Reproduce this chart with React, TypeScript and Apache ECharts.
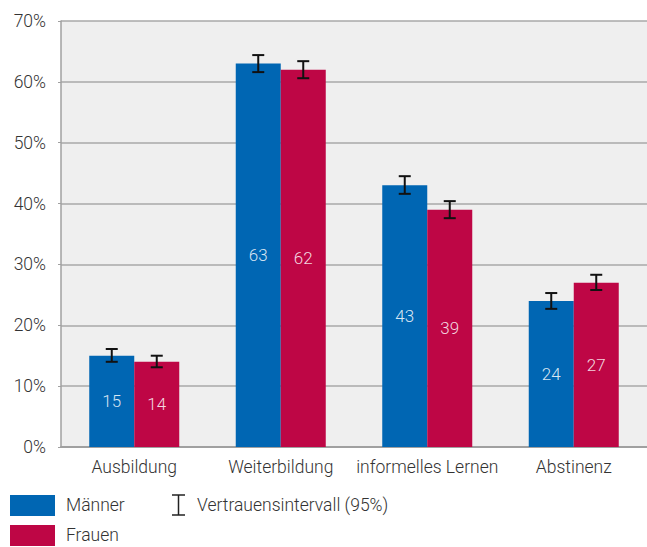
import React, { useEffect, useRef } from "react";
import * as echarts from "echarts";

const categories = ["Ausbildung", "Weiterbildung", "informelles Lernen", "Abstinenz"];
const maenner = [15, 63, 43, 24];
const frauen = [14, 62, 39, 27];
const maennerLow = [14.0, 61.6, 41.6, 22.7];
const maennerHigh = [16.1, 64.4, 44.5, 25.3];
const frauenLow = [13.1, 60.6, 37.6, 25.8];
const frauenHigh = [15.0, 63.4, 40.4, 28.3];
const yTicks = [0, 10, 20, 30, 40, 50, 60, 70];

const BLUE = "#0066b3";
const RED = "#be0645";
const FONT = "Roboto";
const FS = 17.5;

function errorSeries(low: number[], high: number[], offset: number) {
  return {
    type: "custom",
    silent: true,
    z: 10,
    data: categories.map((_, i) => [i, low[i], high[i]]),
    renderItem: (params: any, api: any) => {
      const i = api.value(0);
      const lo = api.coord([i, api.value(1)]);
      const hi = api.coord([i, api.value(2)]);
      const x = lo[0] + offset;
      const cap = 6;
      const style = { stroke: "#111", lineWidth: 2 };
      return {
        type: "group",
        children: [
          { type: "line", shape: { x1: x, y1: hi[1], x2: x, y2: lo[1] }, style },
          { type: "line", shape: { x1: x - cap, y1: hi[1], x2: x + cap, y2: hi[1] }, style },
          { type: "line", shape: { x1: x - cap, y1: lo[1], x2: x + cap, y2: lo[1] }, style },
        ],
      };
    },
  };
}

export default function App() {
  const ref = useRef<HTMLDivElement>(null);
  useEffect(() => {
    document.body.style.margin = "0";
    const chart = echarts.init(ref.current!, null, { renderer: "svg" });
    const labelStyle = {
      show: true,
      position: "inside",
      color: "rgba(255,255,255,0.85)",
      fontSize: 17,
      fontFamily: FONT,
      fontWeight: 300,
    };
    chart.setOption({
      animation: false,
      grid: {
        left: 61,
        right: -2,
        top: 21,
        bottom: 100,
        show: true,
        backgroundColor: "#efefef",
        borderWidth: 0,
      },
      xAxis: {
        type: "category",
        data: categories,
        axisLine: { show: true, lineStyle: { color: "#a0a0a0", width: 2 } },
        axisTick: { show: false },
        axisLabel: { color: "#333", fontSize: FS, fontFamily: FONT, fontWeight: 300, margin: 11, interval: 0 },
      },
      yAxis: {
        type: "value",
        min: 0,
        max: 70,
        interval: 10,
        axisLine: { show: true, lineStyle: { color: "#a0a0a0", width: 1.5 } },
        axisTick: { show: true, length: 3, lineStyle: { color: "#a0a0a0" } },
        splitLine: { show: true, lineStyle: { color: "#a8a8a8", width: 1.5 } },
        axisLabel: {
          color: "#333",
          fontSize: FS,
          fontFamily: FONT,
          fontWeight: 300,
          margin: 15,
          formatter: (v: number) => (yTicks.includes(v) ? v + "%" : ""),
        },
      },
      series: [
        {
          type: "bar",
          name: "Männer",
          data: maenner,
          barWidth: 45,
          barGap: "0%",
          itemStyle: { color: BLUE },
          label: labelStyle,
        },
        {
          type: "bar",
          name: "Frauen",
          data: frauen,
          barWidth: 45,
          barGap: "0%",
          itemStyle: { color: RED },
          label: labelStyle,
        },
        errorSeries(maennerLow, maennerHigh, -22.5),
        errorSeries(frauenLow, frauenHigh, 22.5),
      ],
      graphic: [
        { type: "rect", left: 10, top: 495, shape: { width: 45, height: 21 }, style: { fill: BLUE } },
        { type: "rect", left: 10, top: 525, shape: { width: 45, height: 21 }, style: { fill: RED } },
        { type: "text", left: 66, top: 496, style: { text: "Männer", fill: "#333", fontSize: FS, fontWeight: 300, fontFamily: FONT } },
        { type: "text", left: 66, top: 526, style: { text: "Frauen", fill: "#333", fontSize: FS, fontWeight: 300, fontFamily: FONT } },
        { type: "line", shape: { x1: 178.5, y1: 495, x2: 178.5, y2: 515 }, style: { stroke: "#222", lineWidth: 1.5 } },
        { type: "line", shape: { x1: 172, y1: 495, x2: 185, y2: 495 }, style: { stroke: "#222", lineWidth: 1.5 } },
        { type: "line", shape: { x1: 172, y1: 515, x2: 185, y2: 515 }, style: { stroke: "#222", lineWidth: 1.5 } },
        { type: "text", left: 197, top: 496, style: { text: "Vertrauensintervall (95%)", fill: "#333", fontSize: FS, fontWeight: 300, fontFamily: FONT } },
      ],
    });
    return () => chart.dispose();
  }, []);
  return <div ref={ref} style={{ width: 647, height: 547 }} />;
}
